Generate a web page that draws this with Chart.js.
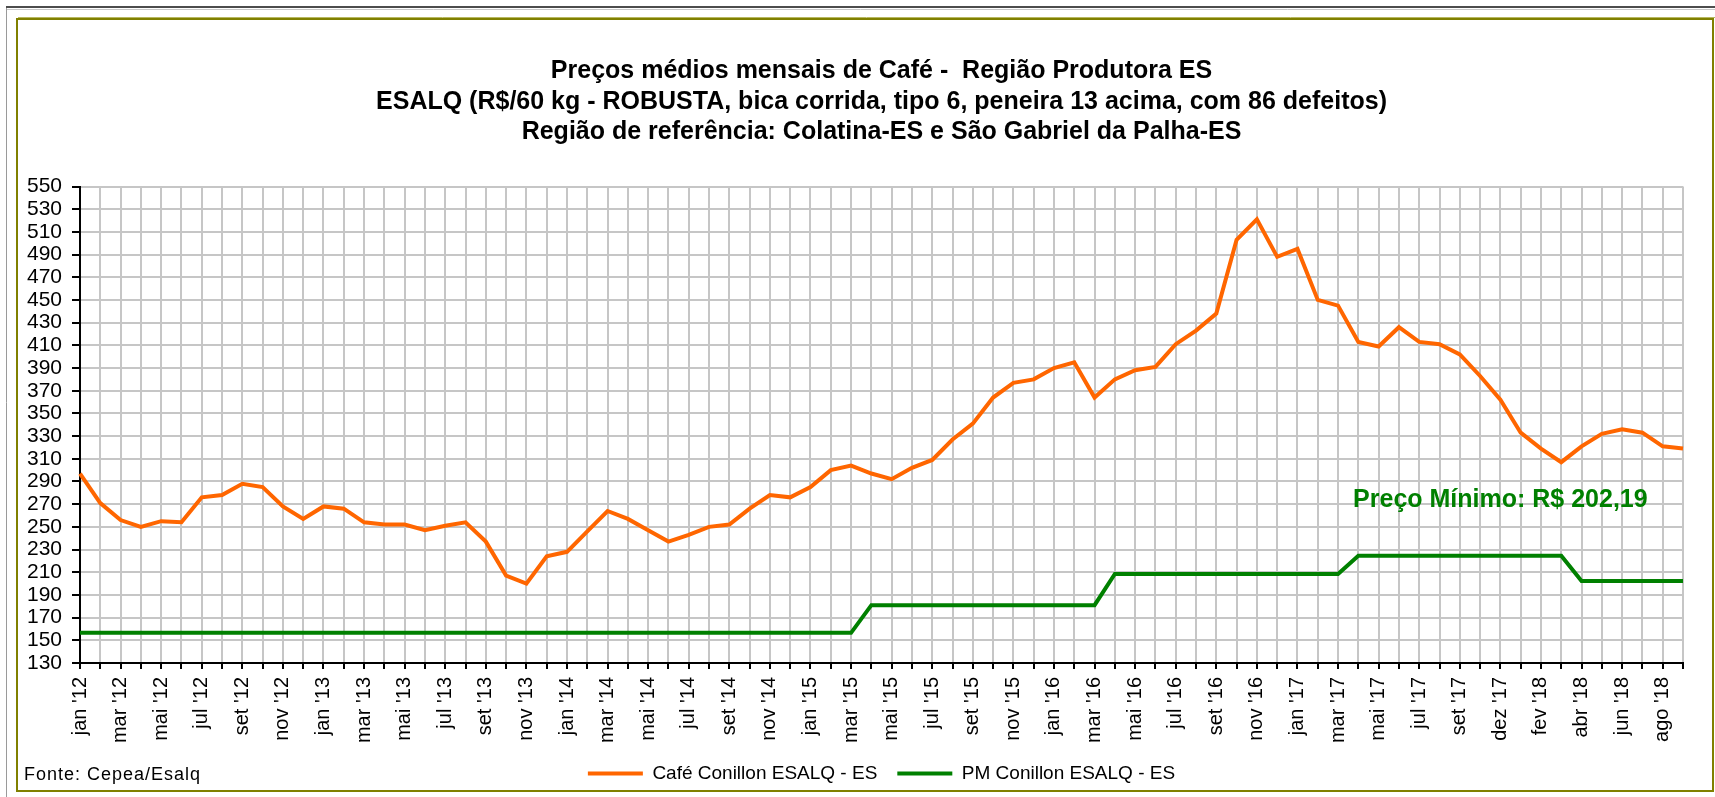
<!DOCTYPE html>
<html lang="pt-BR">
<head>
<meta charset="utf-8">
<title>Preços médios mensais de Café - Região Produtora ES</title>
<script src="https://cdn.jsdelivr.net/npm/chart.js@4.4.0/dist/chart.umd.min.js"></script>
<style>
  html, body { margin: 0; padding: 0; background: #fff; }
  #wrap { width: 1715px; height: 797px; }
</style>
</head>
<body>
<div id="wrap"><canvas id="cafeChart" width="1715" height="797"></canvas></div>
<script>
// Categorias (um mês por ponto; nov '17 não aparece na série original)
const meses = [
  "jan '12", "fev '12", "mar '12", "abr '12", "mai '12", "jun '12", "jul '12", "ago '12", "set '12", "out '12", "nov '12", "dez '12",
  "jan '13", "fev '13", "mar '13", "abr '13", "mai '13", "jun '13", "jul '13", "ago '13", "set '13", "out '13", "nov '13", "dez '13",
  "jan '14", "fev '14", "mar '14", "abr '14", "mai '14", "jun '14", "jul '14", "ago '14", "set '14", "out '14", "nov '14", "dez '14",
  "jan '15", "fev '15", "mar '15", "abr '15", "mai '15", "jun '15", "jul '15", "ago '15", "set '15", "out '15", "nov '15", "dez '15",
  "jan '16", "fev '16", "mar '16", "abr '16", "mai '16", "jun '16", "jul '16", "ago '16", "set '16", "out '16", "nov '16", "dez '16",
  "jan '17", "fev '17", "mar '17", "abr '17", "mai '17", "jun '17", "jul '17", "ago '17", "set '17", "out '17", "dez '17",
  "jan '18", "fev '18", "mar '18", "abr '18", "mai '18", "jun '18", "jul '18", "ago '18", "set '18"
];

// Café Conillon ESALQ - ES (R$/60 kg)
const cafeConillon = [
  297, 271, 256, 250, 255, 254, 276, 278, 288, 285, 268, 257,
  268, 266, 254, 252, 252, 247, 251, 254, 237, 207, 200, 224,
  228, 246, 264, 257, 247, 237, 243, 250, 252, 266, 278, 276,
  285, 300, 304, 297, 292, 302, 309, 327, 341, 364, 377, 380,
  390, 395, 364, 380, 388, 391, 411, 423, 438, 503, 521, 488,
  495, 450, 445, 413, 409, 426, 413, 411, 402, 383, 362,
  333, 319, 307, 321, 332, 336, 333, 321, 319
];

// PM Conillon ESALQ - ES (preço mínimo)
const pmConillon = [
  156.6, 156.6, 156.6, 156.6, 156.6, 156.6, 156.6, 156.6, 156.6, 156.6, 156.6, 156.6,
  156.6, 156.6, 156.6, 156.6, 156.6, 156.6, 156.6, 156.6, 156.6, 156.6, 156.6, 156.6,
  156.6, 156.6, 156.6, 156.6, 156.6, 156.6, 156.6, 156.6, 156.6, 156.6, 156.6, 156.6,
  156.6, 156.6, 156.6, 181, 181, 181, 181, 181, 181, 181, 181, 181,
  181, 181, 181, 208.5, 208.5, 208.5, 208.5, 208.5, 208.5, 208.5, 208.5, 208.5,
  208.5, 208.5, 208.5, 224.5, 224.5, 224.5, 224.5, 224.5, 224.5, 224.5, 224.5,
  224.5, 224.5, 224.5, 202.19, 202.19, 202.19, 202.19, 202.19, 202.19
];

const tituloLinhas = [
  'Preços médios mensais de Café -  Região Produtora ES',
  'ESALQ (R$/60 kg - ROBUSTA, bica corrida, tipo 6, peneira 13 acima, com 86 defeitos)',
  'Região de referência: Colatina-ES e São Gabriel da Palha-ES'
];
const fonteTexto = 'Fonte: Cepea/Esalq';
const precoMinimoTexto = 'Preço Mínimo: R$ 202,19';

const FONT = '"Liberation Sans", Arial, Helvetica, sans-serif';
const gridGray = '#c6c6c6';

// Moldura em volta do gráfico (estilo Excel) + nota da fonte
const framePlugin = {
  id: 'frame',
  beforeDraw(chart) {
    const ctx = chart.ctx;
    const w = chart.width, h = chart.height;
    ctx.save();
    ctx.fillStyle = '#fff';
    ctx.fillRect(0, 0, w, h);
    ctx.strokeStyle = '#4d4d4d'; ctx.lineWidth = 2;
    ctx.beginPath(); ctx.moveTo(6, 7); ctx.lineTo(w, 7); ctx.stroke();
    ctx.strokeStyle = '#c8c8c8'; ctx.lineWidth = 1;
    ctx.beginPath(); ctx.moveTo(6, 9.5); ctx.lineTo(w, 9.5); ctx.stroke();
    ctx.strokeStyle = '#9a9a9a';
    ctx.beginPath(); ctx.moveTo(6.5, 8); ctx.lineTo(6.5, h); ctx.stroke();
    ctx.strokeStyle = '#808000'; ctx.lineWidth = 2;
    ctx.strokeRect(17, 19, w - 19, h - 25);
    ctx.strokeStyle = '#b8b860'; ctx.lineWidth = 1;
    ctx.beginPath(); ctx.moveTo(18, 17.5); ctx.lineTo(w, 17.5); ctx.stroke();
    ctx.restore();
  },
  afterDraw(chart) {
    const ctx = chart.ctx;
    ctx.save();
    ctx.font = '18px ' + FONT;
    ctx.letterSpacing = '1px';
    ctx.fillStyle = '#000';
    ctx.textBaseline = 'middle';
    ctx.textAlign = 'left';
    ctx.fillText(fonteTexto, 24, 775);
    ctx.restore();
  }
};

// Rótulo do preço mínimo, posicionado pelas escalas
const precoMinimoPlugin = {
  id: 'precoMinimo',
  afterDatasetsDraw(chart) {
    const { ctx, scales: { x, y } } = chart;
    ctx.save();
    ctx.font = 'bold 25px ' + FONT;
    ctx.fillStyle = '#008000';
    ctx.textAlign = 'center';
    ctx.textBaseline = 'middle';
    ctx.fillText(precoMinimoTexto, x.getPixelForValue(70), y.getPixelForValue(273.5));
    ctx.restore();
  }
};

const ctx = document.getElementById('cafeChart').getContext('2d');
new Chart(ctx, {
  type: 'line',
  data: {
    labels: meses,
    datasets: [
      {
        label: 'Café Conillon ESALQ - ES',
        data: cafeConillon,
        borderColor: '#ff6600',
        backgroundColor: '#ff6600',
        borderWidth: 4,
        pointRadius: 0,
        tension: 0
      },
      {
        label: 'PM Conillon ESALQ - ES',
        data: pmConillon,
        borderColor: '#008000',
        backgroundColor: '#008000',
        borderWidth: 4,
        pointRadius: 0,
        tension: 0
      }
    ]
  },
  options: {
    responsive: false,
    animation: false,
    layout: { padding: { top: 40, right: 19, bottom: 4, left: 0 } },
    plugins: {
      title: {
        display: true,
        fullSize: false,
        text: tituloLinhas,
        color: '#000',
        font: { family: FONT, size: 25, weight: 'bold', lineHeight: 1.22 },
        padding: { top: 16, bottom: 39 }
      },
      legend: {
        position: 'bottom',
        fullSize: false,
        labels: {
          color: '#000',
          font: { family: FONT, size: 19 },
          usePointStyle: true,
          pointStyle: 'line',
          pointStyleWidth: 55,
          padding: 20
        }
      },
      tooltip: { enabled: false }
    },
    scales: {
      x: {
        offset: false,
        afterFit: (scale) => { scale.height = 81; },
        grid: { color: gridGray, lineWidth: 2, offset: false, tickColor: '#000', tickLength: 6, tickWidth: 2 },
        border: { color: '#000', width: 2 },
        ticks: {
          autoSkip: false,
          minRotation: 90,
          maxRotation: 90,
          padding: 8,
          color: '#000',
          font: { family: FONT, size: 20 },
          callback: (val, i) => (i % 2 === 0 ? meses[i] : '')
        }
      },
      y: {
        min: 130,
        max: 550,
        afterFit: (scale) => { scale.width = 80; },
        grid: { color: gridGray, lineWidth: 2, tickColor: '#000', tickLength: 8, tickWidth: 2 },
        border: { color: '#000', width: 2 },
        ticks: {
          autoSkip: false,
          stepSize: 20,
          padding: 10,
          color: '#000',
          font: { family: FONT, size: 21 }
        }
      }
    }
  },
  plugins: [framePlugin, precoMinimoPlugin]
});
</script>
</body>
</html>
